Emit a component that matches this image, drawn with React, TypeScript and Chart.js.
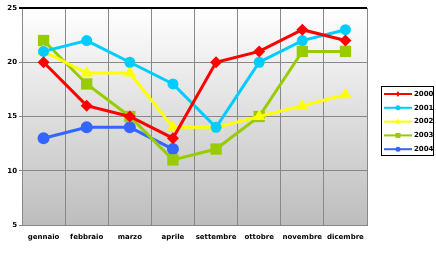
import React, { useEffect, useRef } from "react";
import { Chart, registerables } from "chart.js";

Chart.register(...registerables);

const categories = ["gennaio", "febbraio", "marzo", "aprile", "settembre", "ottobre", "novembre", "dicembre"];
const s2000 = [20, 16, 15, 13, 20, 21, 23, 22];
const s2001 = [21, 22, 20, 18, 14, 20, 22, 23];
const s2002 = [21, 19, 19, 14, 14, 15, 16, 17];
const s2003 = [22, 18, 15, 11, 12, 15, 21, 21];
const s2004 = [13, 14, 14, 12, null, null, null, null];
const seriesNames = ["2000", "2001", "2002", "2003", "2004"];
const yTicks = [5, 10, 15, 20, 25];

const FONT = { family: "DejaVu Sans", size: 7, weight: "bold" as const };

const bgPlugin = {
  id: "bgPlugin",
  beforeDraw(chart: any) {
    const { ctx, chartArea: a } = chart;
    ctx.save();
    ctx.fillStyle = "#ffffff";
    ctx.fillRect(0, 0, chart.width, chart.height);
    const g = ctx.createLinearGradient(0, a.top, 0, a.bottom);
    g.addColorStop(0, "#ffffff");
    g.addColorStop(1, "#bdbdbd");
    ctx.fillStyle = g;
    ctx.fillRect(a.left, a.top, a.right - a.left, a.bottom - a.top);
    ctx.restore();
  },
  afterDatasetsDraw(chart: any) {
    const { ctx, chartArea: a } = chart;
    ctx.save();
    ctx.strokeStyle = "#000000";
    ctx.lineWidth = 2;
    ctx.beginPath();
    ctx.moveTo(a.left - 3, a.top);
    ctx.lineTo(a.right, a.top);
    ctx.stroke();
    // legend
    const lx = 381, ly = 86, lw = 52, lh = 69;
    ctx.fillStyle = "#ffffff";
    ctx.fillRect(lx, ly, lw, lh);
    ctx.strokeStyle = "#000000";
    ctx.lineWidth = 1;
    ctx.strokeRect(lx + 0.5, ly + 0.5, lw, lh);
    chart.data.datasets.forEach((ds: any, i: number) => {
      const y = ly + 8 + i * 13.8;
      ctx.strokeStyle = ds.borderColor;
      ctx.lineWidth = 2;
      ctx.beginPath();
      ctx.moveTo(lx + 3, y);
      ctx.lineTo(lx + 31, y);
      ctx.stroke();
      ctx.fillStyle = ds.borderColor;
      ctx.beginPath();
      if (ds.pointStyle === "circle") {
        ctx.arc(lx + 17, y, 2.5, 0, Math.PI * 2);
      } else if (ds.pointStyle === "rect") {
        ctx.rect(lx + 14.5, y - 2.5, 5, 5);
      } else if (ds.pointStyle === "triangle") {
        ctx.moveTo(lx + 17, y - 3);
        ctx.lineTo(lx + 20, y + 2);
        ctx.lineTo(lx + 14, y + 2);
      } else {
        ctx.moveTo(lx + 17, y - 3);
        ctx.lineTo(lx + 19, y);
        ctx.lineTo(lx + 17, y + 3);
        ctx.lineTo(lx + 15, y);
      }
      ctx.fill();
      ctx.fillStyle = "#000000";
      ctx.font = `bold 7px "DejaVu Sans"`;
      ctx.textBaseline = "middle";
      ctx.textAlign = "left";
      ctx.fillText(ds.label, lx + 33, y);
    });
    ctx.restore();
  },
};

export default function App() {
  const ref = useRef<HTMLCanvasElement>(null);
  useEffect(() => {
    if (!ref.current) return;
    const mk = (label: string, data: any[], color: string, style: string, r: number) => ({
      label,
      data,
      borderColor: color,
      backgroundColor: color,
      borderWidth: 3,
      pointStyle: style,
      pointRadius: r,
      pointBorderWidth: 0,
      pointBackgroundColor: color,
      tension: 0,
      spanGaps: false,
    });
    const chart = new Chart(ref.current, {
      type: "line",
      data: {
        labels: categories,
        datasets: [
          mk(seriesNames[0], s2000, "#ff0000", "rectRot", 6),
          mk(seriesNames[1], s2001, "#00ccff", "circle", 5.5),
          mk(seriesNames[2], s2002, "#ffff00", "triangle", 7),
          mk(seriesNames[3], s2003, "#99cc00", "rect", 8),
          mk(seriesNames[4], s2004, "#3366ff", "circle", 6),
        ] as any,
      },
      options: {
        responsive: false,
        animation: false,
        layout: { padding: { left: 0, top: 5, right: 69, bottom: 0 } },
        plugins: { legend: { display: false }, tooltip: { enabled: false } },
        scales: {
          x: {
            offset: true,
            grid: { offset: true, color: "#888888", lineWidth: 1, drawTicks: false },
            border: { color: "#888888", width: 1 },
            ticks: { color: "#000000", font: FONT, padding: 8, maxRotation: 0, autoSkip: false },
            afterFit: (s: any) => { s.height = 29; },
          },
          y: {
            min: 5,
            max: 25,
            afterBuildTicks: (s: any) => { s.ticks = yTicks.map((v) => ({ value: v })); },
            grid: { color: "#888888", lineWidth: 1, tickLength: 3 },
            border: { color: "#888888", width: 1 },
            ticks: { color: "#000000", font: FONT, padding: 2 },
            afterFit: (s: any) => { s.width = 22; },
          },
        },
      },
      plugins: [bgPlugin],
    });
    return () => chart.destroy();
  }, []);
  return (
    <div style={{ position: "fixed", left: 0, top: 0, width: 436, height: 254, background: "#fff" }}>
      <canvas ref={ref} width={436} height={254} />
    </div>
  );
}
